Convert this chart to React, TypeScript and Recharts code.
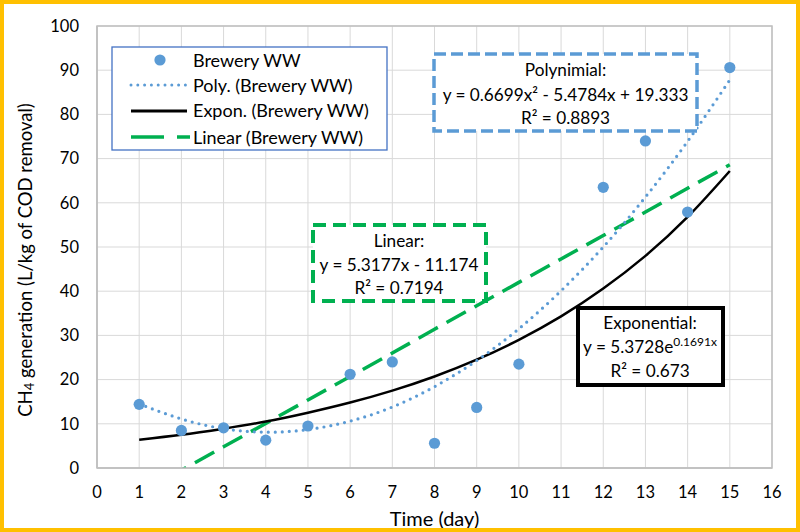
import * as React from "react";
import {
  ComposedChart,
  Scatter,
  Line,
  XAxis,
  YAxis,
  CartesianGrid,
  ReferenceArea,
} from "recharts";

// observed points (no reading on day 11)
const days = [1, 2, 3, 4, 5, 6, 7, 8, 9, 10, 12, 13, 14, 15];
const methane = [14.4, 8.5, 9.1, 6.3, 9.5, 21.2, 24.0, 5.6, 13.7, 23.5, 63.5, 74.0, 57.9, 90.6];

// trend lines at each day
const trendDays = [1, 2, 3, 4, 5, 6, 7, 8, 9, 10, 11, 12, 13, 14, 15];
const polyTrend = [14.5, 11.1, 8.9, 8.1, 8.7, 10.6, 13.8, 18.4, 24.3, 31.5, 40.1, 50.0, 61.3, 73.9, 87.8];
const expTrend = [6.4, 7.5, 8.9, 10.5, 12.5, 14.8, 17.5, 20.7, 24.5, 29.0, 34.3, 40.6, 48.0, 56.8, 67.2];
const linTrend = [-5.9, -0.5, 4.8, 10.1, 15.4, 20.7, 26.0, 31.4, 36.7, 42.0, 47.3, 52.6, 57.9, 63.3, 68.6];

const xTicks = [0, 1, 2, 3, 4, 5, 6, 7, 8, 9, 10, 11, 12, 13, 14, 15, 16];
const yTicks = [0, 10, 20, 30, 40, 50, 60, 70, 80, 90, 100];

const FONT = "Lato, 'Open Sans', sans-serif";
const BLUE = "#5b9bd5";
const GREEN = "#00b050";

const observed = days.map((d, i) => ({ day: d, ch4: methane[i] }));
const trends = trendDays.map((d, i) => ({
  day: d,
  poly: polyTrend[i],
  expo: expTrend[i],
  lin: linTrend[i],
}));

const Dot = (props: any) => (
  <circle cx={props.cx} cy={props.cy} r={5.6} fill={BLUE} />
);

const YTitle = () => {
  const cx = 25;
  const cy = 260;
  return (
    <text
      x={cx}
      y={cy}
      transform={`rotate(-90 ${cx} ${cy})`}
      textAnchor="middle"
      dominantBaseline="central"
      fontSize={18.5}
      fontFamily={FONT}
      fill="#000"
    >
      CH
      <tspan fontSize={13} dy={4}>4</tspan>
      <tspan dy={-4}> generation (L/kg of COD removal)</tspan>
    </text>
  );
};

const txt = { fontFamily: FONT, fontSize: 17.2, fill: "#000", textAnchor: "middle" as const };

function Overlay() {
  return (
    <svg
      width={800}
      height={532}
      style={{ position: "absolute", left: 0, top: 0, pointerEvents: "none" }}
    >
      {/* legend */}
      <rect x={112} y={47} width={275} height={103} fill="#fff" stroke="#4472c4" strokeWidth={1.3} />
      <circle cx={160} cy={60} r={5.6} fill={BLUE} />
      <line x1={131} y1={85} x2={187} y2={85} stroke={BLUE} strokeWidth={3} strokeDasharray="0 6.8" strokeLinecap="round" />
      <line x1={131} y1={111} x2={187} y2={111} stroke="#000" strokeWidth={3} />
      <line x1={131} y1={137} x2={190} y2={137} stroke={GREEN} strokeWidth={3.5} strokeDasharray="33 13" />
      <g fontFamily={FONT} fontSize={18} fill="#000">
        <text x={193} y={66.5}>Brewery WW</text>
        <text x={193} y={91.5}>Poly. (Brewery WW)</text>
        <text x={193} y={117}>Expon. (Brewery WW)</text>
        <text x={193} y={143.5}>Linear (Brewery WW)</text>
      </g>

      {/* polynomial fit */}
      <rect x={434} y={54} width={263} height={77} fill="#fff" stroke={BLUE} strokeWidth={3.5} strokeDasharray="12 5" />
      <text {...txt} x={565.5} y={76}>Polynimial:</text>
      <text {...txt} x={565.5} y={101}>y = 0.6699x² - 5.4784x + 19.333</text>
      <text {...txt} x={565.5} y={124}>R² = 0.8893</text>

      {/* linear fit */}
      <rect x={313} y={225} width={173} height={76} fill="#fff" stroke={GREEN} strokeWidth={4} strokeDasharray="13 7" />
      <text {...txt} x={399} y={246.5}>Linear:</text>
      <text {...txt} x={399} y={271}>y = 5.3177x - 11.174</text>
      <text {...txt} x={399} y={294}>R² = 0.7194</text>

      {/* exponential fit */}
      <rect x={578} y={308} width={145} height={77} fill="#fff" stroke="#000" strokeWidth={4} />
      <text {...txt} x={650} y={329}>Exponential:</text>
      <text {...txt} x={650} y={352.5}>
        y = 5.3728e<tspan fontSize={12} dy={-7}>0.1691x</tspan>
      </text>
      <text {...txt} x={650} y={376.5}>R² = 0.673</text>
    </svg>
  );
}

export default function App() {
  return (
    <div
      style={{
        position: "fixed",
        left: 0,
        top: 0,
        width: 800,
        height: 532,
        background: "#fff",
      }}
    >
      <ComposedChart
        width={800}
        height={532}
        data={trends}
        margin={{ top: 26, right: 28, bottom: 0, left: 0 }}
      >
        <CartesianGrid stroke="#d9d9d9" strokeWidth={1} />
        <XAxis
          dataKey="day"
          type="number"
          domain={[0, 16]}
          ticks={xTicks}
          interval={0}
          tickLine={false}
          tickSize={0}
          tickMargin={18}
          height={64}
          axisLine={{ stroke: "#bfbfbf", strokeWidth: 1.5 }}
          tick={{ fill: "#000", fontSize: 16.5, fontFamily: FONT }}
          label={{
            value: "Time (day)",
            position: "insideBottom",
            offset: 6,
            fill: "#000",
            fontSize: 20,
            fontFamily: FONT,
          }}
        />
        <YAxis
          type="number"
          domain={[0, 100]}
          ticks={yTicks}
          interval={0}
          allowDataOverflow
          width={97}
          tickLine={false}
          tickSize={0}
          tickMargin={18}
          axisLine={{ stroke: "#bfbfbf", strokeWidth: 1.5 }}
          tick={{ fill: "#000", fontSize: 16.5, fontFamily: FONT }}
          label={<YTitle />}
        />
        <ReferenceArea x1={0} x2={16} y1={0} y2={100} fill="none" stroke="#bfbfbf" strokeWidth={1.5} />
        <Scatter
          data={observed}
          dataKey="ch4"
          fill={BLUE}
          shape={<Dot />}
          isAnimationActive={false}
        />
        <Line
          dataKey="lin"
          type="linear"
          stroke={GREEN}
          strokeWidth={3.5}
          strokeDasharray="22 10"
          dot={false}
          activeDot={false}
          isAnimationActive={false}
        />
        <Line
          dataKey="expo"
          type="natural"
          stroke="#000"
          strokeWidth={2.5}
          dot={false}
          activeDot={false}
          isAnimationActive={false}
        />
        <Line
          dataKey="poly"
          type="natural"
          stroke={BLUE}
          strokeWidth={3.2}
          strokeDasharray="0 7"
          strokeLinecap="round"
          dot={false}
          activeDot={false}
          isAnimationActive={false}
        />
      </ComposedChart>
      <Overlay />
      <div
        style={{
          position: "absolute",
          left: 0,
          top: 0,
          width: 800,
          height: 532,
          boxSizing: "border-box",
          border: "4.5px solid #ffc000",
          pointerEvents: "none",
        }}
      />
    </div>
  );
}
